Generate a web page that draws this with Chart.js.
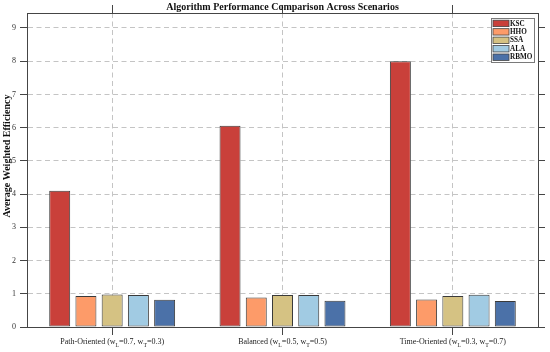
<!DOCTYPE html>
<html>
<head>
<meta charset="utf-8">
<script src="https://cdn.jsdelivr.net/npm/chart.js@4/dist/chart.umd.min.js"></script>
<style>
html,body{margin:0;padding:0;background:#fff;}
canvas{display:block;}
</style>
</head>
<body>
<canvas id="c" width="550" height="352"></canvas>
<script>
const categories = ['Path-Oriented (w_L=0.7, w_T=0.3)', 'Balanced (w_L=0.5, w_T=0.5)', 'Time-Oriented (w_L=0.3, w_T=0.7)'];
const algorithms = ['KSC', 'HHO', 'SSA', 'ALA', 'RBMO'];
const kscValues = [4.10, 6.06, 8.00];
const hhoValues = [0.93, 0.89, 0.83];
const ssaValues = [0.98, 0.96, 0.93];
const alaValues = [0.96, 0.96, 0.97];
const rbmoValues = [0.82, 0.79, 0.78];
const yMin = 0, yMax = 9.45, yStep = 1;
const titleText = 'Algorithm Performance Comparison Across Scenarios';
const yLabelText = 'Average Weighted Efficiency';

const colors = ['#c9403a', '#fd9b69', '#d5c283', '#a1cbe3', '#4b71a8'];
const seriesValues = [kscValues, hhoValues, ssaValues, alaValues, rbmoValues];
const SERIF = "'Liberation Serif', 'Times New Roman', serif";
const AXIS = '#454545';
const GRID = '#c4c4c4';

const datasets = algorithms.map((name, i) => ({
  label: name,
  data: seriesValues[i],
  backgroundColor: colors[i],
  borderColor: '#3a3a3a',
  borderWidth: 1,
  borderSkipped: false,
  barPercentage: 0.8,
  categoryPercentage: 0.77
}));

function drawRich(ctx, text, cx, cy, size) {
  const parts = [];
  const re = /_([A-Za-z0-9])/g;
  let last = 0, m;
  while ((m = re.exec(text)) !== null) {
    if (m.index > last) parts.push({t: text.slice(last, m.index), sub: false});
    parts.push({t: m[1], sub: true});
    last = m.index + m[0].length;
  }
  if (last < text.length) parts.push({t: text.slice(last), sub: false});
  const nf = size + 'px ' + SERIF, sf = (size * 0.72) + 'px ' + SERIF;
  let total = 0;
  parts.forEach(p => { ctx.font = p.sub ? sf : nf; p.w = ctx.measureText(p.t).width; total += p.w; });
  let x = cx - total / 2;
  ctx.textAlign = 'left';
  ctx.textBaseline = 'alphabetic';
  parts.forEach(p => {
    ctx.font = p.sub ? sf : nf;
    ctx.fillText(p.t, x, cy + (p.sub ? 2.5 : 0));
    x += p.w;
  });
}

const decor = {
  id: 'decor',
  afterDraw(chart) {
    const ctx = chart.ctx;
    const ca = chart.chartArea;
    const xs = chart.scales.x;
    ctx.save();
    ctx.fillStyle = '#111';
    // title
    ctx.font = 'bold 10px ' + SERIF;
    ctx.textAlign = 'center';
    ctx.textBaseline = 'middle';
    ctx.fillText(titleText, (ca.left + ca.right) / 2, 7.5);
    // y label
    ctx.save();
    ctx.translate(7, 156);
    ctx.rotate(-Math.PI / 2);
    ctx.font = 'bold 10px ' + SERIF;
    ctx.textAlign = 'center';
    ctx.textBaseline = 'middle';
    ctx.fillText(yLabelText, 0, 0);
    ctx.restore();
    // x labels
    ctx.fillStyle = '#222';
    categories.forEach((c, i) => {
      drawRich(ctx, c, xs.getPixelForValue(i), 344, 8);
    });
    // legend
    const bx = 491, by = 18, bw = 43, bh = 44;
    ctx.fillStyle = '#fff';
    ctx.fillRect(bx, by, bw, bh);
    ctx.strokeStyle = '#7a7a7a';
    ctx.lineWidth = 1;
    ctx.strokeRect(bx + 0.5, by + 0.5, bw, bh);
    chart.data.datasets.forEach((ds, i) => {
      const cy = 23.4 + i * 8.45;
      ctx.fillStyle = ds.backgroundColor;
      ctx.fillRect(493, cy - 3.2, 16, 6.4);
      ctx.strokeStyle = '#444';
      ctx.lineWidth = 0.8;
      ctx.strokeRect(493, cy - 3.2, 16, 6.4);
      ctx.fillStyle = '#111';
      ctx.font = 'bold 7.2px ' + SERIF;
      ctx.textAlign = 'left';
      ctx.textBaseline = 'middle';
      ctx.fillText(ds.label, 510, cy + 0.3);
    });
    ctx.restore();
  }
};

new Chart(document.getElementById('c'), {
  type: 'bar',
  data: { labels: categories, datasets },
  options: {
    responsive: false,
    animation: false,
    devicePixelRatio: 1,
    layout: { padding: 0 },
    plugins: { legend: { display: false }, title: { display: false }, tooltip: { enabled: false } },
    scales: {
      x: {
        type: 'category', position: 'bottom', offset: true,
        grid: { offset: false, color: GRID, lineWidth: 1, tickColor: AXIS, tickLength: 8 },
        border: { display: true, color: AXIS, width: 1, dash: [5, 3.5] },
        ticks: { display: false },
        afterFit: s => { s.height = 25; }
      },
      x2: {
        type: 'category', position: 'top', offset: true, labels: categories,
        grid: { offset: false, drawOnChartArea: false, tickColor: AXIS, tickLength: 8 },
        border: { display: true, color: AXIS, width: 1 },
        ticks: { display: false },
        afterFit: s => { s.height = 13; }
      },
      y: {
        type: 'linear', position: 'left', min: yMin, max: yMax,
        ticks: { stepSize: yStep, includeBounds: false, padding: 4, color: '#333', font: { family: SERIF, size: 8 } },
        grid: { color: GRID, lineWidth: 1, tickColor: AXIS, tickLength: 7 },
        border: { display: true, color: AXIS, width: 1, dash: [5, 3.5] },
        afterFit: s => { s.width = 27; }
      },
      y2: {
        type: 'linear', position: 'right', min: yMin, max: yMax,
        ticks: { display: false, stepSize: yStep, includeBounds: false },
        grid: { drawOnChartArea: false, tickColor: AXIS, tickLength: 7 },
        border: { display: true, color: AXIS, width: 1 },
        afterFit: s => { s.width = 12; }
      }
    }
  },
  plugins: [decor]
});
</script>
</body>
</html>
